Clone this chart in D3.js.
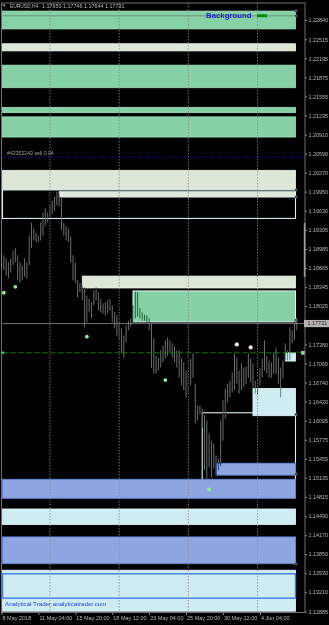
<!DOCTYPE html>
<html>
<head>
<meta charset="utf-8">
<script src="https://cdnjs.cloudflare.com/ajax/libs/d3/7.8.5/d3.min.js"></script>
<style>
    html, body { margin: 0; padding: 0; background: #000; }
    svg { display: block; }
    text { font-family: "Liberation Sans", Arial, sans-serif; }
</style>
</head>
<body>
<svg id="chart"></svg>
<script>
// EURUSD H4, 8 May 2018 12:00 .. 6 Jun 2018
const barHigh = [
    1.1893, 1.1888, 1.1883, 1.1876, 1.1883, 1.1896, 1.1900, 1.1888, 1.1876, 1.1871,
    1.1883, 1.1876, 1.1921, 1.1943, 1.1933, 1.1926, 1.1921, 1.1943, 1.1960, 1.1967,
    1.1960, 1.1972, 1.1980, 1.1987, 1.1995, 1.1992, 1.1984, 1.1943, 1.1937, 1.1933,
    1.1920, 1.1888, 1.1876, 1.1846, 1.1841, 1.1837, 1.1834, 1.1820, 1.1815, 1.1809,
    1.1829, 1.1834, 1.1826, 1.1815, 1.1807, 1.1809, 1.1812, 1.1815, 1.1804, 1.1792,
    1.1787, 1.1775, 1.1765, 1.1753, 1.1770, 1.1778, 1.1782, 1.1804, 1.1827, 1.1826,
    1.1799, 1.1792, 1.1788, 1.1787, 1.1782, 1.1775, 1.1748, 1.1719, 1.1716, 1.1728,
    1.1736, 1.1745, 1.1750, 1.1745, 1.1740, 1.1735, 1.1728, 1.1728, 1.1714, 1.1708,
    1.1694, 1.1703, 1.1714, 1.1723, 1.1672, 1.1635, 1.1635, 1.1630, 1.1619, 1.1610,
    1.1588, 1.1576, 1.1571, 1.1551, 1.1546, 1.1610, 1.1644, 1.1664, 1.1672, 1.1677,
    1.1691, 1.1723, 1.1716, 1.1694, 1.1706, 1.1699, 1.1701, 1.1723, 1.1714, 1.1706,
    1.1677, 1.1681, 1.1698, 1.1714, 1.1745, 1.1719, 1.1711, 1.1708, 1.1725, 1.1733,
    1.1716, 1.1699, 1.1711, 1.1740, 1.1728, 1.1767, 1.1762, 1.1778, 1.1783
];
const barLow = [
    1.1866, 1.1863, 1.1854, 1.1849, 1.1859, 1.1871, 1.1876, 1.1846, 1.1842, 1.1846,
    1.1852, 1.1849, 1.1871, 1.1900, 1.1913, 1.1910, 1.1910, 1.1913, 1.1921, 1.1938,
    1.1943, 1.1950, 1.1957, 1.1963, 1.1972, 1.1970, 1.1930, 1.1921, 1.1913, 1.1910,
    1.1876, 1.1846, 1.1841, 1.1817, 1.1826, 1.1812, 1.1767, 1.1775, 1.1792, 1.1782,
    1.1804, 1.1812, 1.1795, 1.1792, 1.1790, 1.1787, 1.1790, 1.1795, 1.1775, 1.1765,
    1.1753, 1.1745, 1.1723, 1.1716, 1.1741, 1.1762, 1.1768, 1.1775, 1.1782, 1.1785,
    1.1782, 1.1778, 1.1778, 1.1775, 1.1762, 1.1698, 1.1689, 1.1689, 1.1694, 1.1699,
    1.1708, 1.1714, 1.1718, 1.1723, 1.1716, 1.1708, 1.1699, 1.1682, 1.1669, 1.1661,
    1.1649, 1.1657, 1.1669, 1.1682, 1.1605, 1.1610, 1.1620, 1.1598, 1.1526, 1.1512,
    1.1531, 1.1514, 1.1529, 1.1517, 1.1526, 1.1533, 1.1576, 1.1613, 1.1640, 1.1649,
    1.1657, 1.1661, 1.1672, 1.1655, 1.1661, 1.1666, 1.1671, 1.1682, 1.1674, 1.1666,
    1.1655, 1.1654, 1.1669, 1.1682, 1.1694, 1.1689, 1.1682, 1.1682, 1.1688, 1.1689,
    1.1672, 1.1649, 1.1681, 1.1711, 1.1711, 1.1711, 1.1740, 1.1745, 1.1762
];

const priceTicks = [
    1.22840, 1.22515, 1.22195, 1.21875, 1.21555, 1.21235, 1.20910, 1.20590,
    1.20270, 1.19950, 1.19630, 1.19305, 1.18985, 1.18665, 1.18345, 1.18025,
    1.17380, 1.17060, 1.16740, 1.16420, 1.16095, 1.15775, 1.15455, 1.15135,
    1.14815, 1.14490, 1.14170, 1.13850, 1.13530, 1.13210, 1.12885
];
const timeLabels = ['8 May 2018', '11 May 04:00', '15 May 20:00', '18 May 12:00',
    '23 May 04:00', '25 May 20:00', '30 May 12:00', '4 Jun 04:00'];
const timeLabelBars = [0, 16, 32, 48, 64, 80, 96, 112];
const weekStartBars = [21, 51, 81, 111];

// zones: kind g = green, l = pale, o = outline, c = light cyan, b = blue, cb = cyan with blue frame
const zoneKind   = ['g', 'l', 'g', 'g', 'g', 'l', 'o', 'l', 'l', 'go', 'c', 'c', 'o', 'b', 'b', 'c', 'b', 'c', 'cb'];
const zoneTop    = [1.2299, 1.2244, 1.2208, 1.2137, 1.2121, 1.2031, 1.1998, 1.1995, 1.1853, 1.1828,
                    1.1724, 1.1664, 1.1623, 1.1538, 1.1511, 1.1461, 1.1414, 1.1358, 1.1352];
const zoneBottom = [1.2269, 1.2232, 1.2170, 1.2128, 1.2087, 1.1999, 1.1950, 1.1986, 1.1833, 1.1776,
                    1.1710, 1.1618, 1.1509, 1.1518, 1.1479, 1.1435, 1.1369, 1.1289, 1.1311];
const zoneStart  = [0, 0, 0, 0, 0, 0, 0, 25, 35, 57, 123, 109, 87, 93, 0, 0, 0, 0, 0];
const anchorPrices = [1.2299, 1.2291, 1.1998, 1.1986, 1.1779, 1.1620, 1.1520, 1.1369];

const headerSymbol = 'EURUSD,H4';
const headerOHLC = ['1.17650', '1.17746', '1.17644', '1.17731'];
const bidPrice = 1.17731;
const orderPrice = 1.2053;
const orderLabel = '#43352243 sell 0.04';
const levelPrice = 1.1724;
const backgroundLinePrice = 1.2291;

const greenDotBars = [1, 6, 37, 71, 90];
const greenDotPrices = [1.1825, 1.1835, 1.1751, 1.1678, 1.1494];
const whiteDotBars = [102, 108];
const whiteDotPrices = [1.1738, 1.1733];
const markBar = 26, markPrice = 1.1991;

const W = 329, H = 625;
const plotLeft = 1.5, plotTop = 3, plotRight = 305, plotBottom = 612.5;

const svg = d3.select('#chart').attr('width', W).attr('height', H);
svg.append('rect').attr('width', W).attr('height', H).attr('fill', '#000');

const x = d3.scaleLinear().domain([0, barHigh.length - 1]).range([1.5, 296.8]);
const y = d3.scaleLinear().domain([1.12885, 1.22840]).range([611.5, 20]);
const zoneRight = x(barHigh.length - 1) - 1.3;

const zoneFill = {g: '#86d2a6', go: '#86d2a6', l: '#dce7d8', o: 'none', c: '#cfecf3', b: '#8ea6e0', cb: '#cfecf3'};
const zoneStroke = {g: '#a4dfbd', go: '#e2f6ee', l: '#eef8f0', o: '#d6f2f2', c: '#e8fbff', b: '#6585d8', cb: '#3f7ae6'};
const zoneWidth = {g: 0.8, go: 1, l: 0.8, o: 1.1, c: 0.8, b: 0.9, cb: 1.4};

const plot = svg.append('g');

// zones
plot.selectAll('rect.zone')
    .data(zoneKind)
    .join('rect')
    .attr('class', 'zone')
    .attr('x', (k, i) => Math.max(plotLeft + 1, x(zoneStart[i])))
    .attr('y', (k, i) => Math.max(plotTop + 0.5, y(zoneTop[i])))
    .attr('width', (k, i) => zoneRight - Math.max(plotLeft + 1, x(zoneStart[i])))
    .attr('height', (k, i) => Math.min(plotBottom - 1, y(zoneBottom[i])) - Math.max(plotTop + 0.5, y(zoneTop[i])))
    .attr('fill', k => zoneFill[k])
    .attr('stroke', k => zoneStroke[k])
    .attr('stroke-width', k => zoneWidth[k]);

// line inside the background zone
plot.append('line')
    .attr('x1', plotLeft + 1).attr('x2', zoneRight)
    .attr('y1', y(backgroundLinePrice)).attr('y2', y(backgroundLinePrice))
    .attr('stroke', '#5f7f70').attr('stroke-width', 0.8);

// week grid
plot.selectAll('line.grid')
    .data(weekStartBars)
    .join('line')
    .attr('class', 'grid')
    .attr('x1', d => x(d)).attr('x2', d => x(d))
    .attr('y1', plotTop).attr('y2', plotBottom)
    .attr('stroke', '#958590').attr('stroke-width', 0.8)
    .attr('stroke-dasharray', '1.5,1.5');

// order line
plot.append('line')
    .attr('x1', plotLeft + 1).attr('x2', plotRight)
    .attr('y1', y(orderPrice)).attr('y2', y(orderPrice))
    .attr('stroke', '#0c0ca0').attr('stroke-width', 1.2)
    .attr('stroke-dasharray', '4,2,1,2');
plot.append('text')
    .attr('x', 7).attr('y', y(orderPrice) - 2.2)
    .attr('font-size', 5.2).attr('fill', '#9a9a9a')
    .text(orderLabel);

// bars
plot.append('g')
    .style('mix-blend-mode', 'difference')
    .selectAll('rect')
    .data(barHigh)
    .join('rect')
    .attr('x', (d, i) => x(i) - 0.5)
    .attr('width', 1)
    .attr('y', d => y(d))
    .attr('height', (d, i) => Math.max(1, y(barLow[i]) - y(d)))
    .attr('fill', '#6c6c6c');

// bid line
plot.append('line')
    .attr('x1', plotLeft + 1).attr('x2', plotRight)
    .attr('y1', y(bidPrice)).attr('y2', y(bidPrice))
    .attr('stroke', '#8c8c8c').attr('stroke-width', 0.8);

// green level
plot.append('line')
    .attr('x1', plotLeft + 1).attr('x2', 303)
    .attr('y1', y(levelPrice)).attr('y2', y(levelPrice))
    .attr('stroke', '#0a8a0a').attr('stroke-width', 0.9)
    .attr('stroke-dasharray', '5,3');
plot.append('rect')
    .attr('x', plotLeft + 0.3).attr('y', y(levelPrice) - 1.2)
    .attr('width', 2.4).attr('height', 2.4).attr('fill', '#3fcf3f');
plot.append('rect')
    .attr('x', 301.5).attr('y', y(levelPrice) - 1.5)
    .attr('width', 3).attr('height', 3)
    .attr('fill', '#80e080').attr('stroke', '#c8ffc8').attr('stroke-width', 0.5);

// anchors
plot.selectAll('circle.anchor')
    .data(anchorPrices)
    .join('circle')
    .attr('class', 'anchor')
    .attr('cx', zoneRight + 0.3)
    .attr('cy', d => y(d))
    .attr('r', 1.2)
    .attr('fill', '#1e2a50').attr('stroke', '#9fb5c0').attr('stroke-width', 0.5);

// signal dots
plot.selectAll('circle.gdot')
    .data(greenDotBars)
    .join('circle')
    .attr('class', 'gdot')
    .attr('cx', d => x(d))
    .attr('cy', (d, i) => y(greenDotPrices[i]))
    .attr('r', 1.9)
    .attr('fill', '#8ff08f');
plot.selectAll('circle.wdot')
    .data(whiteDotBars)
    .join('circle')
    .attr('class', 'wdot')
    .attr('cx', d => x(d))
    .attr('cy', (d, i) => y(whiteDotPrices[i]))
    .attr('r', 1.9)
    .attr('fill', '#ffffff').attr('stroke', '#f0c8b0').attr('stroke-width', 0.4);
plot.append('rect')
    .attr('x', x(markBar) - 1.5).attr('y', y(markPrice) - 1.5)
    .attr('width', 3).attr('height', 3)
    .attr('fill', '#f8e4ee');

// labels inside the chart
plot.append('text')
    .attr('x', 206).attr('y', y(backgroundLinePrice) + 2.6)
    .attr('font-size', 7.8).attr('font-weight', 'bold')
    .attr('fill', '#1c1cc8')
    .text('Background');
plot.append('rect')
    .attr('x', 257).attr('y', y(backgroundLinePrice) - 1.6)
    .attr('width', 10).attr('height', 3)
    .attr('fill', '#0a8a0a');

plot.append('text')
    .attr('x', 5).attr('y', 606)
    .attr('font-size', 6.2)
    .attr('fill', '#2244ee')
    .text('Analytical Trader analyticatrader.com');

// header
svg.append('path')
    .attr('d', 'M2.5,4.6 L5.5,4.6 L4,6.8 Z')
    .attr('fill', '#b8b8b8');
svg.append('text')
    .attr('x', 10).attr('y', 8)
    .attr('font-size', 4.9).attr('fill', '#b8b8b8')
    .text(headerSymbol);
svg.append('text')
    .attr('x', 42).attr('y', 8)
    .attr('font-size', 5.4).attr('fill', '#b8b8b8')
    .text(headerOHLC.join(' '));

// frame
svg.append('rect')
    .attr('x', plotLeft).attr('y', plotTop)
    .attr('width', plotRight - plotLeft).attr('height', plotBottom - plotTop)
    .attr('fill', 'none').attr('stroke', '#8a8a8a').attr('stroke-width', 0.8);

// scroll marker on the price axis
svg.append('rect')
    .attr('x', plotRight - 1.2).attr('y', 223)
    .attr('width', 1.6).attr('height', 54)
    .attr('fill', '#9c9c9c');

// price axis
const yAxis = svg.append('g')
    .attr('transform', `translate(${plotRight},0)`)
    .call(d3.axisRight(y).tickValues(priceTicks).tickFormat(d3.format('.5f')).tickSize(2).tickPadding(1.5));
yAxis.select('.domain').remove();
yAxis.selectAll('line').attr('stroke', '#8a8a8a');
yAxis.selectAll('text').attr('fill', '#b8b8b8').attr('font-size', 5.4)
    .attr('font-family', '"Liberation Sans", Arial, sans-serif');

// bid label
svg.append('rect')
    .attr('x', plotRight - 1).attr('y', y(bidPrice) - 3.6)
    .attr('width', W - plotRight + 1).attr('height', 7.2)
    .attr('fill', '#b4b4b4');
svg.append('text')
    .attr('x', plotRight + 2.5).attr('y', y(bidPrice) + 1.9)
    .attr('font-size', 5.4).attr('fill', '#202020')
    .text(d3.format('.5f')(bidPrice));

// time axis
const xAxis = svg.append('g')
    .attr('transform', `translate(0,${plotBottom})`)
    .call(d3.axisBottom(x).tickValues(timeLabelBars).tickFormat((d, i) => timeLabels[i]).tickSize(2.5).tickPadding(1));
xAxis.select('.domain').remove();
xAxis.selectAll('line').attr('stroke', '#8a8a8a');
xAxis.selectAll('text')
    .attr('text-anchor', 'start')
    .attr('dx', 0.5)
    .attr('fill', '#b8b8b8').attr('font-size', 5.5)
    .attr('font-family', '"Liberation Sans", Arial, sans-serif');
</script>
</body>
</html>
